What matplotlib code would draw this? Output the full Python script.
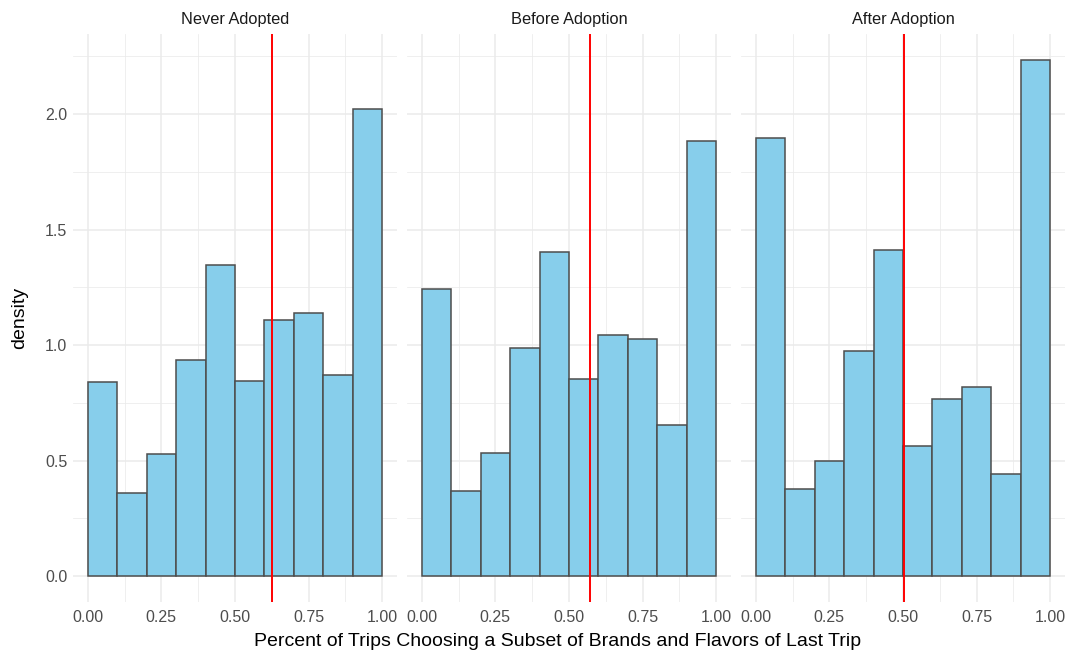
import numpy as np
import matplotlib.pyplot as plt
from matplotlib.ticker import MultipleLocator

plt.rcParams['font.family'] = ['Liberation Sans', 'DejaVu Sans']

panels = ['Never Adopted', 'Before Adoption', 'After Adoption']
bin_edges = [0.0, 0.1, 0.2, 0.3, 0.4, 0.5, 0.6, 0.7, 0.8, 0.9]
density = {
    'Never Adopted':   [0.841, 0.361, 0.530, 0.934, 1.345, 0.844, 1.107, 1.141, 0.869, 2.023],
    'Before Adoption': [1.244, 0.368, 0.532, 0.986, 1.405, 0.852, 1.043, 1.025, 0.655, 1.884],
    'After Adoption':  [1.897, 0.378, 0.499, 0.974, 1.412, 0.562, 0.769, 0.817, 0.444, 2.235],
}
means = {'Never Adopted': 0.624, 'Before Adoption': 0.571, 'After Adoption': 0.503}

W, H = 1073, 658
fig = plt.figure(figsize=(W / 100, H / 100), dpi=100)

lefts = [73, 407, 741]
pw = 324
top, bottom = 34, 602
ymax = 2.235 * 1.05
ymin = -2.235 * 0.05

for i, (name, x0) in enumerate(zip(panels, lefts)):
    ax = fig.add_axes([x0 / W, 1 - bottom / H, pw / W, (bottom - top) / H])
    ax.set_xlim(-0.05, 1.05)
    ax.set_ylim(ymin, ymax)
    ax.xaxis.set_major_locator(MultipleLocator(0.25))
    ax.xaxis.set_minor_locator(MultipleLocator(0.125))
    ax.yaxis.set_major_locator(MultipleLocator(0.5))
    ax.yaxis.set_minor_locator(MultipleLocator(0.25))
    ax.grid(True, which='major', color='#EBEBEB', linewidth=1.1)
    ax.grid(True, which='minor', color='#EBEBEB', linewidth=0.55)
    ax.set_axisbelow(True)
    for s in ax.spines.values():
        s.set_visible(False)
    ax.tick_params(which='both', length=0, labelsize=11.5, labelcolor='#4D4D4D', pad=4)
    ax.tick_params(axis='x', pad=6)
    ax.set_xticks([0, 0.25, 0.5, 0.75, 1.0])
    ax.set_xticklabels(['0.00', '0.25', '0.50', '0.75', '1.00'])

    ax.bar(bin_edges, density[name], width=0.1, align='edge',
           color='#87CEEB', edgecolor='#4D4D4D', linewidth=1.1, zorder=2)
    ax.axvline(means[name], color='red', linewidth=1.4, zorder=3)

    ax.set_title(name, fontsize=11.8, color='#1A1A1A', pad=7)
    if i == 0:
        ax.set_yticks([0, 0.5, 1.0, 1.5, 2.0])
        ax.set_yticklabels(['0.0', '0.5', '1.0', '1.5', '2.0'])
        ax.set_ylabel('density', fontsize=14)
        ax.yaxis.set_label_coords(-(73 - 28) / pw, 0.5)
    else:
        ax.tick_params(axis='y', which='both', labelleft=False)

fig.text(558 / W, 1 - 642 / H, 'Percent of Trips Choosing a Subset of Brands and Flavors of Last Trip',
         ha='center', va='center', fontsize=14)

fig.savefig('out.png', dpi=100)
